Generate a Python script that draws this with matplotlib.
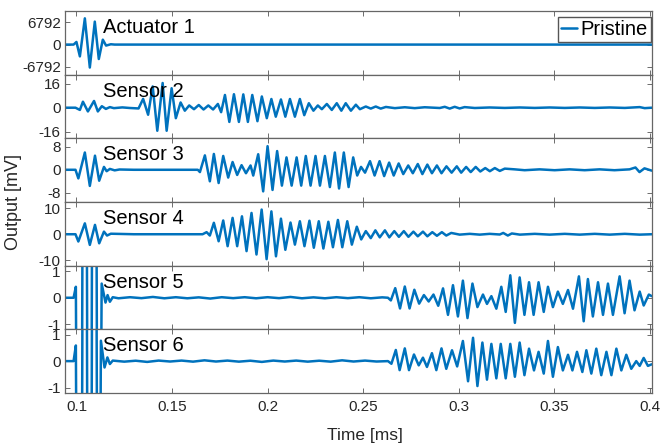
import matplotlib
matplotlib.use("Agg")
import matplotlib.pyplot as plt

plt.rcParams["font.family"] = ["Liberation Sans", "DejaVu Sans"]
plt.rcParams["axes.unicode_minus"] = False

BLUE = "#0072BD"
GREY = "#262626"

NAMES = ["Actuator 1", "Sensor 2", "Sensor 3", "Sensor 4", "Sensor 5", "Sensor 6"]
YTICKS = [[-6792, 0, 6792], [-16, 0, 16], [-8, 0, 8], [-10, 0, 10], [-1, 0, 1], [-1, 0, 1]]
YLIMS = [(-9200, 10200), (-20.5, 22), (-11.2, 10.9), (-12.1, 12.4), (-1.18, 1.2), (-1.2, 1.2)]
XTICKS = [0.1, 0.15, 0.2, 0.25, 0.3, 0.35, 0.4]
XTICKLABELS = ["0.1", "0.15", "0.2", "0.25", "0.3", "0.35", "0.4"]

# time [ms] / output values at the wave extrema
ACT_T = [0.094, 0.0985, 0.1000, 0.1018, 0.1044, 0.1070, 0.1096, 0.1117, 0.1138, 0.1155,
         0.1180, 0.1200, 0.4010]
ACT_V = [0, 0, 800, -3600, 8000, -7000, 7000, -4400, 1500, -300, 100, 0, 0]

S2_T = [0.094, 0.0995, 0.1018, 0.1034, 0.1060, 0.1092, 0.1112, 0.1133, 0.1154, 0.1175,
        0.1196, 0.124, 0.128, 0.1325, 0.1349, 0.1375, 0.1399, 0.1423, 0.1451, 0.1472,
        0.1498, 0.1520, 0.1545, 0.1567, 0.1590, 0.1615, 0.1640, 0.1665, 0.1690, 0.1715,
        0.1740, 0.1757, 0.1777, 0.1800, 0.1824, 0.1850, 0.1873, 0.1897, 0.1920, 0.1947,
        0.1970, 0.1996, 0.2020, 0.2043, 0.2070, 0.2093, 0.2117, 0.2143, 0.2169, 0.2192,
        0.2216, 0.2240, 0.2263, 0.2284, 0.2310, 0.2336, 0.2362, 0.2386, 0.2409, 0.2436,
        0.2462, 0.2483, 0.2514, 0.2540, 0.2566, 0.2592, 0.2619, 0.2666, 0.2718, 0.2770,
        0.2822, 0.2901, 0.2927, 0.2953, 0.2979, 0.3005, 0.3031, 0.3084, 0.3162, 0.3241,
        0.3320, 0.3398, 0.3476, 0.3555, 0.3633, 0.3712, 0.3790, 0.3869, 0.3947, 0.3973,
        0.4010]
S2_V = [0, 0, -1.5, 4, -2.5, 4.5, -2.5, 1, -0.8, 0.4,
        -0.3, 0.2, -0.2, -0.5, 5.9, -4.7, 14.2, -15.4, 16.5, -15.4,
        13, -7, 3.5, -2, 1.5, -1, 1.8, -1.2, 1.5, -1.2,
        2.5, -3, 8.5, -9.5, 9, -9.5, 8.9, -9.5, 8.5, -9,
        7.5, -7, 5.8, -6, 5.5, -6, 5.8, -6, 5.8, -5,
        3, -2, 1.5, -1, 2.5, -1.5, 3, -2, 3, -2,
        2, -1, 0.8, -0.6, 0.8, -0.6, 0.5, -0.3, 0.3, -0.3,
        0.3, -0.2, 0.6, -0.6, 0.6, -0.5, 0.4, -0.2, 0.15, -0.15,
        0.15, -0.15, 0.15, -0.15, 0.15, -0.15, 0.15, -0.15, 0.4, -0.3,
        0]

S3_T = [0.094, 0.0995, 0.1010, 0.1044, 0.1070, 0.1097, 0.1119, 0.1144, 0.1158, 0.1175,
        0.1200, 0.1225, 0.1300, 0.1635, 0.1646, 0.1672, 0.1698, 0.1719, 0.1744, 0.1768,
        0.1794, 0.1817, 0.1841, 0.1864, 0.1887, 0.1911, 0.1925, 0.1951, 0.1977, 0.2000,
        0.2026, 0.2050, 0.2075, 0.2099, 0.2126, 0.2152, 0.2176, 0.2200, 0.2225, 0.2251,
        0.2274, 0.2300, 0.2326, 0.2352, 0.2374, 0.2399, 0.2424, 0.2448, 0.2469, 0.2489,
        0.2510, 0.2536, 0.2560, 0.2586, 0.2610, 0.2636, 0.2660, 0.2686, 0.2710, 0.2736,
        0.2760, 0.2786, 0.2810, 0.2836, 0.2860, 0.2886, 0.2910, 0.2936, 0.2963, 0.2990,
        0.3013, 0.3039, 0.3063, 0.3089, 0.3113, 0.3139, 0.3163, 0.3189, 0.3215, 0.3241,
        0.3293, 0.3345, 0.3423, 0.3502, 0.3580, 0.3659, 0.3737, 0.3815, 0.3894, 0.3925,
        0.3946, 0.3972, 0.4010]
S3_V = [0, 0, -3, 6, -5.6, 4.9, -3.8, 1, -0.5, 0.3,
        -0.2, 0.1, 0, 0, -0.8, 5, -4, 5.5, -4.6, 4.8,
        -2.7, 2.7, -1.8, 1.6, -1.2, 1.5, -2, 5.4, -7.5, 8.2,
        -7, 6.5, -5.5, 4.3, -5.5, 4.3, -5.5, 4.8, -5.5, 4.8,
        -5.5, 4.8, -6, 6, -6.5, 6, -6, 4.3, -2, 1,
        -1, 3, -2, 3, -2.2, 2.5, -2, 2.2, -1.5, 1.5,
        -1.2, 2, -1.5, 1.8, -1.2, 1.5, -1.2, 1.2, -1, 1.2,
        -1, 1, -0.8, 1, -0.6, 0.6, -0.5, 0.6, -0.4, 0.4,
        0.15, -0.15, 0.15, -0.15, 0.15, -0.15, 0.15, -0.15, 0.15, 0.8,
        -0.8, 0.5, -0.3]

S4_T = [0.094, 0.0995, 0.1010, 0.1044, 0.1070, 0.1097, 0.1119, 0.1144, 0.1160, 0.1180,
        0.1300, 0.1660, 0.1681, 0.1698, 0.1719, 0.1744, 0.1768, 0.1791, 0.1817, 0.1841,
        0.1866, 0.1890, 0.1916, 0.1942, 0.1969, 0.1995, 0.2020, 0.2044, 0.2070, 0.2093,
        0.2120, 0.2143, 0.2169, 0.2193, 0.2219, 0.2242, 0.2268, 0.2292, 0.2318, 0.2342,
        0.2368, 0.2391, 0.2417, 0.2441, 0.2467, 0.2490, 0.2514, 0.2540, 0.2564, 0.2587,
        0.2614, 0.2637, 0.2663, 0.2687, 0.2713, 0.2737, 0.2763, 0.2786, 0.2813, 0.2836,
        0.2862, 0.2886, 0.2912, 0.2935, 0.2961, 0.3005, 0.3058, 0.3110, 0.3162, 0.3215,
        0.3233, 0.3257, 0.3278, 0.3320, 0.3398, 0.3476, 0.3555, 0.3633, 0.3712, 0.3790,
        0.3869, 0.3947, 0.4010]
S4_V = [0, 0, -2.8, 4.2, -4.1, 3.6, -3.5, 1, -0.5, 0.2,
        0, 0, 0.8, -0.5, 4.4, -2.7, 5.3, -4.6, 6.3, -4.6,
        6.9, -6.5, 8.2, -7.8, 9.5, -9.6, 8.8, -8.5, 6, -6,
        4.5, -4, 5, -4.6, 5.2, -5.2, 5, -5.5, 4.8, -5,
        5.5, -5, 5, -4, 2.9, -2, 1.2, -1.5, 1.5, -1.2,
        1.5, -1.2, 1.2, -1, 1.2, -1, 1, -0.8, 1, -0.8,
        0.8, -0.6, 0.8, -0.5, 0.5, -0.15, 0.15, -0.15, 0.15, -0.1,
        0.5, -0.5, 0.3, -0.15, 0.15, -0.15, 0.15, -0.15, 0.15, -0.15,
        0.15, -0.15, 0]

S5_T = [0.094, 0.0985, 0.0997, 0.1018, 0.1043, 0.1068, 0.1093, 0.1115, 0.1132, 0.1152,
        0.1163, 0.1175, 0.1190, 0.122, 0.128, 0.134, 0.140, 0.146, 0.152, 0.158,
        0.164, 0.170, 0.176, 0.182, 0.188, 0.194, 0.200, 0.206, 0.212, 0.218,
        0.224, 0.230, 0.236, 0.242, 0.248, 0.254, 0.260, 0.2630, 0.2645, 0.2668,
        0.2693, 0.2718, 0.2743, 0.2768, 0.2793, 0.2818, 0.2843, 0.2868, 0.2893, 0.2918,
        0.2944, 0.2970, 0.2996, 0.3022, 0.3046, 0.3072, 0.3098, 0.3127, 0.3148, 0.3171,
        0.3197, 0.3223, 0.3246, 0.3270, 0.3294, 0.3319, 0.3344, 0.3368, 0.3392, 0.3418,
        0.3445, 0.3467, 0.3493, 0.3519, 0.3545, 0.3572, 0.3598, 0.3629, 0.3654, 0.3676,
        0.3702, 0.3729, 0.3755, 0.3781, 0.3807, 0.3842, 0.3868, 0.3894, 0.3920, 0.3947,
        0.3968, 0.3995, 0.4010]
S5_V = [0, 0, 0.41, -30, 30, -30, 30, -20, 0.53, -0.18,
        0.1, -0.15, 0.02, -0.02, 0.02, -0.015, 0.03, -0.02, 0.02, -0.02,
        0.015, -0.03, 0.02, -0.015, 0.02, -0.02, 0.02, -0.015, 0.03, -0.02,
        0.015, -0.02, 0.02, -0.015, 0.02, -0.02, 0.015, 0, -0.1, 0.36,
        -0.4, 0.42, -0.4, 0.3, -0.22, 0.1, -0.14, 0.12, -0.3, 0.35,
        -0.64, 0.47, -0.7, 0.64, -0.76, 0.53, -0.35, 0.12, -0.23, 0.06,
        -0.41, 0.41, -0.53, 0.84, -0.94, 0.76, -0.64, 0.58, -0.64, 0.58,
        -0.53, 0.41, -0.35, 0.23, -0.23, 0.29, -0.41, 0.8, -0.88, 0.7,
        -0.7, 0.58, -0.64, 0.53, -0.64, 0.8, -0.58, 0.64, -0.47, 0.23,
        -0.29, 0.12, 0.06]

S6_T = [0.094, 0.0985, 0.0997, 0.1018, 0.1043, 0.1068, 0.1093, 0.1115, 0.1128, 0.1147,
        0.1162, 0.1175, 0.1190, 0.125, 0.131, 0.137, 0.143, 0.149, 0.155, 0.161,
        0.167, 0.173, 0.179, 0.185, 0.191, 0.197, 0.203, 0.209, 0.215, 0.221,
        0.227, 0.233, 0.239, 0.245, 0.251, 0.257, 0.2630, 0.2648, 0.2671, 0.2691,
        0.2718, 0.2740, 0.2766, 0.2791, 0.2813, 0.2834, 0.2860, 0.2883, 0.2910, 0.2935,
        0.2965, 0.2992, 0.3022, 0.3049, 0.3075, 0.3098, 0.3124, 0.3148, 0.3171, 0.3197,
        0.3220, 0.3246, 0.3270, 0.3294, 0.3319, 0.3344, 0.3368, 0.3394, 0.3418, 0.3445,
        0.3467, 0.3493, 0.3519, 0.3545, 0.3572, 0.3595, 0.3619, 0.3647, 0.3668, 0.3694,
        0.3720, 0.3746, 0.3773, 0.3799, 0.3825, 0.3851, 0.3877, 0.3903, 0.3929, 0.3947,
        0.3968, 0.3990, 0.4010]
S6_V = [0, 0, 0.59, -30, 30, -30, 30, -20, 0.77, -0.24,
        0.14, -0.11, 0.02, -0.02, 0.015, -0.03, 0.02, -0.015, 0.02, -0.02,
        0.03, -0.015, 0.02, -0.02, 0.015, -0.03, 0.02, -0.015, 0.02, -0.02,
        0.015, -0.02, 0.03, -0.015, 0.02, -0.015, 0, -0.1, 0.42, -0.34,
        0.48, -0.34, 0.25, -0.16, 0.13, -0.22, 0.3, -0.34, 0.48, -0.29,
        0.41, -0.2, 0.76, -0.76, 0.88, -0.94, 0.7, -0.7, 0.65, -0.65,
        0.65, -0.65, 0.65, -0.59, 0.7, -0.53, 0.47, -0.35, 0.35, -0.47,
        0.76, -0.59, 0.53, -0.35, 0.24, -0.35, 0.35, -0.41, 0.41, -0.47,
        0.47, -0.53, 0.35, -0.53, 0.47, -0.35, 0.24, -0.29, 0.0, -0.18,
        0.12, -0.18, -0.12]

TIMES = [ACT_T, S2_T, S3_T, S4_T, S5_T, S6_T]
VALUES = [ACT_V, S2_V, S3_V, S4_V, S5_V, S6_V]

fig, axes = plt.subplots(6, 1, sharex=True, figsize=(6.63, 4.45), dpi=100)
fig.subplots_adjust(left=0.098, right=0.983, top=0.975, bottom=0.117, hspace=0)

for i, ax in enumerate(axes):
    ax.plot(TIMES[i], VALUES[i], color=BLUE, lw=1.8, label="Pristine",
            solid_joinstyle="round", solid_capstyle="round")
    ax.set_ylim(*YLIMS[i])
    ax.set_yticks(YTICKS[i])
    ax.set_yticklabels([str(v) for v in YTICKS[i]])
    ax.set_xlim(0.094, 0.401)
    ax.set_xticks(XTICKS)
    ax.tick_params(direction="in", length=3.5, width=0.6, colors="#555555",
                   labelcolor=GREY, labelsize=11, top=True, right=True, pad=3)
    for s in ax.spines.values():
        s.set_color("#666666")
        s.set_linewidth(0.9)
    ax.text(0.065, 0.74, NAMES[i], transform=ax.transAxes, fontsize=14.5,
            color="black", va="center", ha="left")

axes[-1].set_xticklabels(XTICKLABELS)
axes[-1].tick_params(axis="x", labelsize=11, pad=5)
axes[0].legend(loc="upper right", bbox_to_anchor=(1.0, 0.93), fontsize=14.5,
               handlelength=0.8, handletextpad=0.15, borderpad=0.15,
               borderaxespad=0.05, fancybox=False, framealpha=1,
               edgecolor="#555555")

fig.text(0.02, 0.546, "Output [mV]", rotation=90, fontsize=13, color=GREY,
         ha="center", va="center")
fig.text(0.55, 0.022, "Time [ms]", fontsize=12.5, color=GREY, ha="center", va="center")

fig.savefig("out.png", dpi=100)
